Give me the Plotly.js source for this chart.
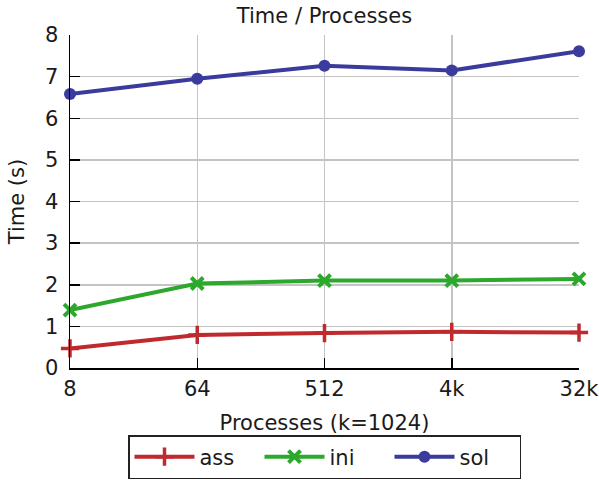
<!DOCTYPE html>
<html>
<head>
<meta charset="utf-8">
<script src="https://cdn.plot.ly/plotly-3.0.1.min.js"></script>
<style>html,body{margin:0;padding:0;background:#fff;}#chart{width:599px;height:480px;}</style>
</head>
<body>
<div id="chart"></div>
<script>
// Data
const processes = ["8", "64", "512", "4k", "32k"];   // 8 .. 32768 processes (k=1024)
const ass = [0.47, 0.795, 0.84, 0.87, 0.85];
const ini = [1.39, 2.03, 2.10, 2.10, 2.14];
const sol = [6.58, 6.95, 7.26, 7.15, 7.61];

const FONT = "DejaVu Sans, Verdana, sans-serif";
const TXT = "#1a1a1a";
const RED = "#bf2a2e", GREEN = "#2ca82c", BLUE = "#3b3b9e";

const traces = [
  {name: "ass", x: processes, y: ass, type: "scatter", mode: "lines+markers",
   line: {color: RED, width: 4}, cliponaxis: false,
   marker: {symbol: "cross-thin", size: 13, color: RED, line: {color: RED, width: 3.5}}},
  {name: "ini", x: processes, y: ini, type: "scatter", mode: "lines+markers",
   line: {color: GREEN, width: 4}, cliponaxis: false,
   marker: {symbol: "x-thin", size: 12, color: GREEN, line: {color: GREEN, width: 4}}},
  {name: "sol", x: processes, y: sol, type: "scatter", mode: "lines+markers",
   line: {color: BLUE, width: 4}, cliponaxis: false,
   marker: {symbol: "circle", size: 12, color: BLUE}}
];

const layout = {
  width: 599, height: 480,
  margin: {l: 70, r: 20, t: 35, b: 112},
  paper_bgcolor: "#fff", plot_bgcolor: "#fff",
  font: {family: FONT, size: 21, color: TXT},
  title: {text: "Time / Processes", x: 0.5, xref: "paper", y: 1 - 16/480, yref: "container", yanchor: "middle",
          font: {family: FONT, size: 21, color: TXT}},
  xaxis: {
    type: "category", range: [0, processes.length - 1],
    showgrid: true, gridcolor: "#c4c4c4", gridwidth: 1.5,
    showline: true, linecolor: "#000", linewidth: 1.5, mirror: false,
    ticks: "inside", ticklen: 10, tickcolor: "#000", tickwidth: 1.5,
    ticklabelstandoff: 1, zeroline: false,
    title: {text: "Processes (k=1024)", standoff: 42, font: {family: FONT, size: 21, color: TXT}},
    automargin: false
  },
  yaxis: {
    range: [0, 8], dtick: 1, tick0: 0,
    showgrid: true, gridcolor: "#c4c4c4", gridwidth: 1.5,
    showline: true, linecolor: "#000", linewidth: 1.5, mirror: false,
    ticks: "inside", ticklen: 10, tickcolor: "#000", tickwidth: 1.5,
    ticklabelstandoff: 6, zeroline: false,
    title: {text: "Time (s)", standoff: 14, font: {family: FONT, size: 21, color: TXT}},
    automargin: false
  },
  showlegend: true,
  legend: {
    orientation: "h", x: 0.5, xref: "paper", xanchor: "center",
    y: 0.002, yref: "container", yanchor: "bottom",
    bordercolor: "#222", borderwidth: 1.5, bgcolor: "#fff",
    font: {family: FONT, size: 21, color: TXT},
    entrywidth: 55, entrywidthmode: "pixels",
    tracegroupgap: 0, itemwidth: 60
  }
};

Plotly.newPlot("chart", traces, layout, {displayModeBar: false, staticPlot: true});
</script>
</body>
</html>
